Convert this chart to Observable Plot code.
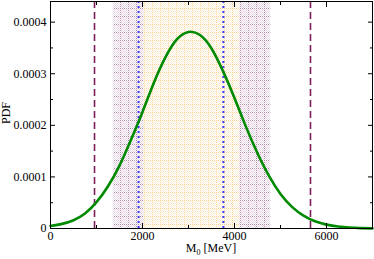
<!DOCTYPE html>
<html>
<head>
<meta charset="utf-8">
<script src="https://cdn.jsdelivr.net/npm/d3@7"></script>
<script src="https://cdn.jsdelivr.net/npm/@observablehq/plot@0.6"></script>
<style>
  html, body { margin: 0; padding: 0; background: #fff; }
  #chart svg { display: block; }
</style>
</head>
<body>
<div id="chart"></div>
<script>
// Curve samples (M0 in MeV, PDF)
const massValues = [0, 250, 500, 750, 1000, 1250, 1500, 1750, 2000, 2250, 2500, 2750, 3000, 3250, 3500, 3750, 4000, 4250, 4500, 4750, 5000, 5250, 5500, 5750, 6000, 6250, 6500, 6750, 7000];
const pdfValues = [5.0e-6, 9.0e-6, 1.6e-5, 2.9e-5, 5.1e-5, 8.2e-5, 1.22e-4, 1.72e-4, 2.26e-4, 2.83e-4, 3.32e-4, 3.67e-4, 3.81e-4, 3.75e-4, 3.49e-4, 3.05e-4, 2.53e-4, 1.97e-4, 1.46e-4, 1.02e-4, 6.7e-5, 4.2e-5, 2.5e-5, 1.4e-5, 7.5e-6, 3.8e-6, 1.8e-6, 8e-7, 3e-7];

// Uncertainty bands
const outerBand = [1367, 4788];
const innerBand = [2030, 4118];
// Vertical reference lines
const dashedLines = [957, 5652];
const dottedLines = [1915, 3758];

// Ticks
const xMajorTicks = [0, 2000, 4000, 6000];
const xMinorTicks = [1000, 3000, 5000];
const yMajorTicks = [0, 0.0001, 0.0002, 0.0003, 0.0004];
const yMinorTicks = [0.00005, 0.00015, 0.00025, 0.00035];

const curve = massValues.map((m, i) => ({m, p: pdfValues[i]}));
const yMax = 0.00044;
const font = "Liberation Serif, Times New Roman, serif";

const blank = () => "";

const svg = Plot.plot({
  width: 374,
  height: 259,
  marginLeft: 50,
  marginRight: 2,
  marginTop: 1,
  marginBottom: 31,
  style: {fontFamily: font, fontSize: "12px", color: "#000", background: "#fff"},
  x: {domain: [0, 7000]},
  y: {domain: [0, yMax]},
  marks: [
    Plot.rect([outerBand], {x1: d => d[0], x2: d => d[1], y1: 0, y2: yMax, fill: "url(#purpPat)"}),
    Plot.rect([innerBand], {x1: d => d[0], x2: d => d[1], y1: 0, y2: yMax, fill: "url(#yelPat)"}),
    Plot.ruleX(dashedLines, {stroke: "#7e1f5c", strokeWidth: 1.6, strokeDasharray: "7,4"}),
    Plot.ruleX(dottedLines, {stroke: "#3b3bff", strokeWidth: 2, strokeDasharray: "2,3"}),
    Plot.line(curve, {x: "m", y: "p", stroke: "#008a00", strokeWidth: 2.6, curve: "natural"}),
    // tick labels
    Plot.axisX({anchor: "bottom", ticks: xMajorTicks, tickSize: 0, tickPadding: 3, tickFormat: d => String(d), label: null, fontSize: 12}),
    Plot.axisY({anchor: "left", ticks: yMajorTicks, tickSize: 0, tickPadding: 4, tickFormat: d => d === 0 ? "0" : d.toFixed(4), label: null, fontSize: 12}),
    // inward tick marks
    Plot.axisX({anchor: "bottom", ticks: xMajorTicks, tickSize: -5, tickFormat: blank, label: null}),
    Plot.axisX({anchor: "bottom", ticks: xMinorTicks, tickSize: -3, tickFormat: blank, label: null}),
    Plot.axisX({anchor: "top", ticks: xMajorTicks, tickSize: -5, tickFormat: blank, label: null}),
    Plot.axisX({anchor: "top", ticks: xMinorTicks, tickSize: -3, tickFormat: blank, label: null}),
    Plot.axisY({anchor: "left", ticks: yMajorTicks, tickSize: -5, tickFormat: blank, label: null}),
    Plot.axisY({anchor: "left", ticks: yMinorTicks, tickSize: -3, tickFormat: blank, label: null}),
    Plot.axisY({anchor: "right", ticks: yMajorTicks, tickSize: -5, tickFormat: blank, label: null}),
    Plot.axisY({anchor: "right", ticks: yMinorTicks, tickSize: -3, tickFormat: blank, label: null}),
    Plot.frame({stroke: "#000", strokeWidth: 1})
  ]
});

// Pattern definitions for the dithered bands
const sel = d3.select(svg);
const defs = sel.insert("defs", ":first-child");
function makePattern(id, light, dark) {
  const n = 8;
  const p = defs.append("pattern").attr("id", id).attr("width", n).attr("height", n).attr("patternUnits", "userSpaceOnUse");
  p.append("rect").attr("width", n).attr("height", n).attr("fill", "#fff");
  for (let i = 0; i < n; i++) {
    for (let j = 0; j < n; j++) {
      if ((i + j) % 2 === 0) {
        const onLine = (i === 0 || j === 0);
        p.append("rect").attr("x", i).attr("y", j).attr("width", 1).attr("height", 1).attr("fill", onLine ? dark : light);
      }
    }
  }
}
makePattern("purpPat", "#e6d3e4", "#b58aa8");
makePattern("yelPat", "#fff0dc", "#ffcf88");

// Axis titles
sel.append("text")
  .attr("transform", "translate(10,113) rotate(-90)")
  .attr("text-anchor", "middle")
  .attr("font-family", font)
  .attr("font-size", 12)
  .text("PDF");
const xt = sel.append("text")
  .attr("x", 211).attr("y", 252)
  .attr("text-anchor", "middle")
  .attr("font-family", font)
  .attr("font-size", 12);
xt.append("tspan").text("M");
xt.append("tspan").attr("font-size", 8).attr("dy", 3).text("0");
xt.append("tspan").attr("dy", -3).text(" [MeV]");

document.getElementById("chart").appendChild(svg);
</script>
</body>
</html>
